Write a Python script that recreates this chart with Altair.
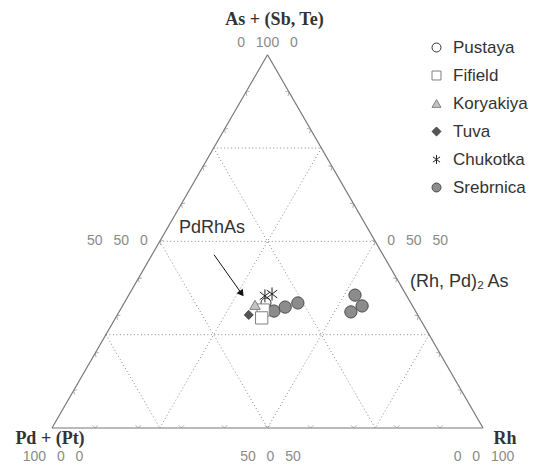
import altair as alt
import pandas as pd
import numpy as np

SQ = np.sqrt(3) / 2

# ---- series / legend styling data ----
series = ["Pustaya", "Fifield", "Koryakiya", "Tuva", "Chukotka", "Srebrnica"]
ASTER = "M0,-1L0,1M-0.8,-0.6L0.8,0.6M-0.8,0.6L0.8,-0.6"
shapes = ["circle", "square", "triangle-up", "diamond", ASTER, "circle"]
fills = ["#ffffff", "#ffffff", "#c4c4c4", "#555555", "transparent", "#8c8c8c"]
strokes = ["#333333", "#808080", "#808080", "#444444", "#222222", "#4a4a4a"]
sizes = [100, 150, 110, 80, 170, 150]

# ---- data points (As, Pd, Rh in %) ----
pt_series = ["Srebrnica"] * 6 + ["Pustaya", "Fifield", "Fifield", "Koryakiya", "Tuva", "Chukotka", "Chukotka"]
pt_as = [31.3, 32.4, 33.5, 35.6, 32.7, 31.1, 33.5, 31.6, 29.5, 33.0, 30.3, 35.4, 35.9]
pt_pd = [32.8, 29.7, 26.2, 11.9, 11.7, 15.1, 33.6, 35.2, 36.6, 36.4, 39.2, 32.9, 31.0]
pt_rh = [35.8, 37.9, 40.3, 52.5, 55.6, 53.8, 32.9, 33.2, 33.9, 30.6, 30.5, 31.7, 33.1]

# ---- grid levels, ticks ----
grid_levels = [0.25, 0.5, 0.75]
tick_levels = [0.1, 0.2, 0.3, 0.4, 0.5, 0.6, 0.7, 0.8, 0.9]

# ---- annotations (As, Pd, Rh) ----
arrow_start = (46.4, 39.2, 14.4)
arrow_end = (36.0, 38.0, 26.0)
pdrhas_pos = (53.6, 36.1, 10.3)
rhpd2as_pos = (39.0, 0.0, 61.0)


def tern(a, p, r):
    s = a + p + r
    a, r = a / s, r / s
    return r + a / 2, a * SQ


# plot area mapping: triangle side = 431 px
W, H = 520, 456
xs = alt.Scale(domain=[-44 / 431, (W - 44) / 431], nice=False, zero=False)
ys = alt.Scale(domain=[-(H - 420) / 431, 420 / 431], nice=False, zero=False)

# segments
segs = []
A, P, R = (100, 0, 0), (0, 100, 0), (0, 0, 100)
for (u, v) in [(A, P), (P, R), (R, A)]:
    x1, y1 = tern(*u)
    x2, y2 = tern(*v)
    segs.append(dict(x=x1, y=y1, x2=x2, y2=y2, kind="edge"))
for k in grid_levels:
    for a, b in [((k, 1 - k, 0), (k, 0, 1 - k)),
                 ((1 - k, k, 0), (0, k, 1 - k)),
                 ((1 - k, 0, k), (0, 1 - k, k))]:
        x1, y1 = tern(*a)
        x2, y2 = tern(*b)
        segs.append(dict(x=x1, y=y1, x2=x2, y2=y2, kind="grid"))
seg_df = pd.DataFrame(segs)

ticks = []
for k in tick_levels:
    x, y = tern(0, 1 - k, k); ticks.append(dict(x=x, y=y, ang=0))
    x, y = tern(k, 1 - k, 0); ticks.append(dict(x=x, y=y, ang=120))
    x, y = tern(k, 0, 1 - k); ticks.append(dict(x=x, y=y, ang=240))
tick_df = pd.DataFrame(ticks)

pts = []
for s, a, p, r in zip(pt_series, pt_as, pt_pd, pt_rh):
    x, y = tern(a, p, r)
    pts.append(dict(x=x, y=y, series=s, sz=sizes[series.index(s)]))
pt_df = pd.DataFrame(pts)

X = alt.X("x:Q", scale=xs, axis=None)
Y = alt.Y("y:Q", scale=ys, axis=None)

edges = alt.Chart(seg_df[seg_df.kind == "edge"]).mark_rule(color="#777777", strokeWidth=1.2).encode(
    x=X, y=Y, x2="x2:Q", y2="y2:Q")
grid = alt.Chart(seg_df[seg_df.kind == "grid"]).mark_rule(color="#8a8a8a", strokeWidth=1, strokeDash=[1, 2.5]).encode(
    x=X, y=Y, x2="x2:Q", y2="y2:Q")
tick_layer = alt.Chart(tick_df).mark_point(shape="M-1,-1L0,0L1,-1", size=30, color="#888888", strokeWidth=0.9,
                                           filled=False).encode(x=X, y=Y, angle=alt.Angle("ang:Q", scale=None))

points = alt.Chart(pt_df).mark_point(strokeWidth=1, opacity=1).encode(
    x=X, y=Y,
    shape=alt.Shape("series:N", scale=alt.Scale(domain=series, range=shapes), title=None),
    fill=alt.Fill("series:N", scale=alt.Scale(domain=series, range=fills), title=None),
    stroke=alt.Stroke("series:N", scale=alt.Scale(domain=series, range=strokes), title=None),
    size=alt.Size("sz:Q", scale=None, legend=None),
)

# arrow
ax1, ay1 = tern(*arrow_start)
ax2, ay2 = tern(*arrow_end)
arr_df = pd.DataFrame([dict(x=ax1, y=ay1, x2=ax2, y2=ay2)])
arrow = alt.Chart(arr_df).mark_rule(color="#111111", strokeWidth=1).encode(x=X, y=Y, x2="x2:Q", y2="y2:Q")
head_df = pd.DataFrame([dict(x=ax2, y=ay2)])
head = alt.Chart(head_df).mark_point(shape="triangle-up", size=60, filled=True, color="#111111",
                                     angle=144, opacity=1).encode(x=X, y=Y)


def label(pos, text, **kw):
    x, y = tern(*pos)
    df = pd.DataFrame([dict(x=x, y=y, t=text)])
    return alt.Chart(df).mark_text(**kw).encode(x=X, y=Y, text="t:N")


SP = "\u2002\u00a0"
title_kw = dict(font="Liberation Serif", fontWeight="bold", fontSize=18, color="#333333")
tick_kw = dict(font="Liberation Sans", fontSize=14, color="#8a8a8a")
ann_kw = dict(font="Liberation Sans", fontSize=18, color="#333333")

labels = [
    label(A, "As + (Sb, Te)", dx=7, dy=-35, **title_kw),
    label(A, f"0{SP}100{SP}0", dy=-12, **tick_kw),
    label(P, "Pd + (Pt)", dx=-2, dy=11, **title_kw),
    label(P, f"100{SP}0{SP}0", dx=1, dy=29, **tick_kw),
    label(R, "Rh", dx=22, dy=11, **title_kw),
    label(R, f"0{SP}0{SP}100", dx=1, dy=29, **tick_kw),
    label((0, 50, 50), f"50{SP}0{SP}50", dx=3, dy=29, **tick_kw),
    label((50, 50, 0), f"50{SP}50{SP}0", dx=-12, align="right", **tick_kw),
    label((50, 0, 50), f"0{SP}50{SP}50", dx=12, align="left", **tick_kw),
    label(pdrhas_pos, "PdRhAs", **ann_kw),
    label(rhpd2as_pos, "(Rh, Pd)\u2082\u2009As", dx=11, align="left", **ann_kw),
]

chart = alt.layer(grid, edges, tick_layer, arrow, head, points, *labels).properties(
    width=W, height=H,
    autosize=alt.AutoSizeParams(type="none"),
    padding=0,
).configure_view(stroke=None).configure_legend(
    orient="none", legendX=420, legendY=31, labelFontSize=17, labelFont="Liberation Sans",
    labelColor="#333333", symbolSize=80, symbolStrokeWidth=1, rowPadding=10, labelOffset=8,
)

chart.save("out.html", embed_options={"renderer": "svg", "actions": False})
